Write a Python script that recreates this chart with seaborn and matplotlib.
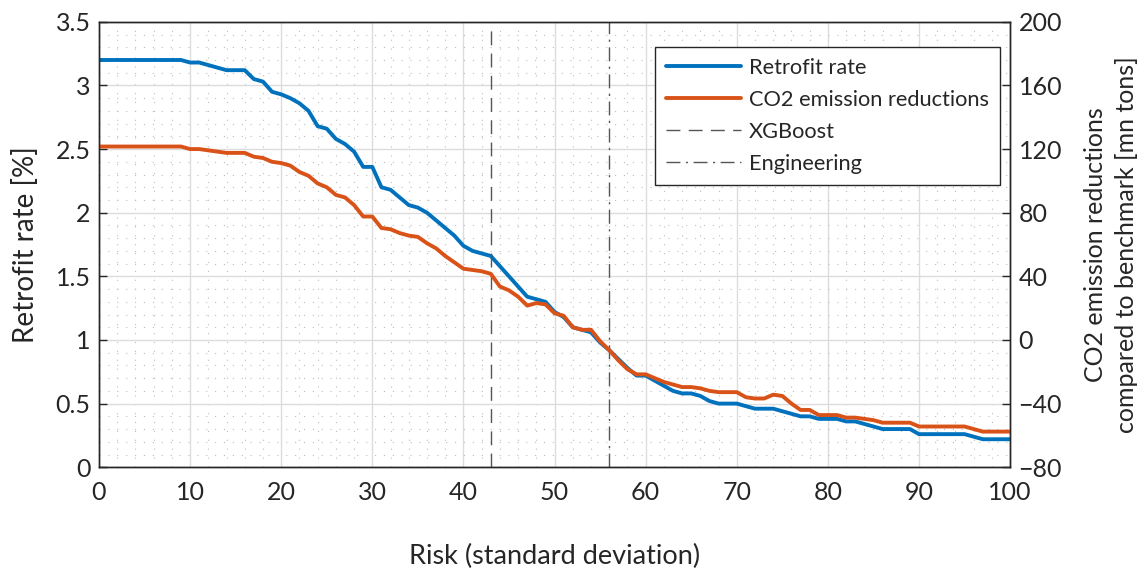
import numpy as np
import pandas as pd
import matplotlib
matplotlib.use("Agg")
import matplotlib.pyplot as plt
import seaborn as sns
from matplotlib.ticker import MultipleLocator
from matplotlib.lines import Line2D

# ---- data ----
risk = list(range(0, 101))
retrofit_rate = [3.2]*10 + [
    3.18, 3.18, 3.16, 3.14, 3.12, 3.12, 3.12, 3.05, 3.03, 2.95,   # 10-19
    2.93, 2.90, 2.86, 2.80, 2.68, 2.66, 2.58, 2.54, 2.48, 2.36,   # 20-29
    2.36, 2.20, 2.18, 2.12, 2.06, 2.04, 2.00, 1.94, 1.88, 1.82,   # 30-39
    1.74, 1.70, 1.68, 1.66, 1.58, 1.50, 1.42, 1.34, 1.32, 1.30,   # 40-49
    1.22, 1.18, 1.10, 1.08, 1.06, 0.98, 0.92, 0.85, 0.78, 0.72,   # 50-59
    0.72, 0.68, 0.64, 0.60, 0.58, 0.58, 0.56, 0.52, 0.50, 0.50,   # 60-69
    0.50, 0.48, 0.46, 0.46, 0.46, 0.44, 0.42, 0.40, 0.40, 0.38,   # 70-79
    0.38, 0.38, 0.36, 0.36, 0.34, 0.32, 0.30, 0.30, 0.30, 0.30,   # 80-89
    0.26, 0.26, 0.26, 0.26, 0.26, 0.26, 0.24, 0.22, 0.22, 0.22,   # 90-99
    0.22]
co2_reduction = [121.6]*10 + [
    120.0, 120.0, 119.2, 118.4, 117.6, 117.6, 117.6, 115.2, 114.4, 112.0,
    111.2, 109.6, 105.6, 103.2, 98.4, 96.0, 91.2, 89.6, 84.8, 77.6,
    77.6, 70.4, 69.6, 67.2, 65.6, 64.8, 60.8, 57.6, 52.8, 48.8,
    44.8, 44.0, 43.2, 41.6, 33.6, 31.2, 27.2, 21.6, 23.2, 22.4,
    16.8, 15.2, 8.0, 6.4, 6.4, -0.8, -6.4, -12.8, -18.4, -21.6,
    -21.6, -24.0, -26.4, -28.0, -29.6, -29.6, -30.4, -32.0, -32.8, -32.8,
    -32.8, -36.0, -36.8, -36.8, -34.4, -35.2, -40.0, -44.0, -44.0, -47.2,
    -47.2, -47.2, -48.8, -48.8, -49.6, -50.4, -52.0, -52.0, -52.0, -52.0,
    -54.4, -54.4, -54.4, -54.4, -54.4, -54.4, -56.0, -57.6, -57.6, -57.6,
    -57.6]
xgboost_risk = 43
engineering_risk = 56

series_labels = ["Retrofit rate", "CO2 emission reductions", "XGBoost", "Engineering"]
left_ticks = [0, 0.5, 1, 1.5, 2, 2.5, 3, 3.5]
left_tick_labels = ["0", "0.5", "1", "1.5", "2", "2.5", "3", "3.5"]

df = pd.DataFrame({"risk": risk, "rate": retrofit_rate, "co2": co2_reduction})

# ---- style ----
sns.set_style("white")
plt.rcParams["font.family"] = ["Lato", "DejaVu Sans"]
plt.rcParams["xtick.direction"] = "in"
plt.rcParams["ytick.direction"] = "in"

blue = "#0072BD"
orange = "#D95319"
vcol = "#555555"
txt = "#262626"
dash_style = (0, (10, 6))
dashdot_style = (0, (10, 4, 1.5, 4))

fig = plt.figure(figsize=(11.44, 5.74), dpi=100)
ax = fig.add_axes([0.0865, 0.186, 0.7965, 0.776])
ax2 = ax.twinx()

sns.lineplot(data=df, x="risk", y="rate", ax=ax, color=blue, lw=2.8, legend=False)
sns.lineplot(data=df, x="risk", y="co2", ax=ax2, color=orange, lw=2.8, legend=False)

ax.axvline(xgboost_risk, color=vcol, lw=1.0, ls=dash_style)
ax.axvline(engineering_risk, color=vcol, lw=1.0, ls=dashdot_style)

ax.set_xlim(0, 100)
ax.set_ylim(0, 3.5)
ax2.set_ylim(-80, 200)

ax.xaxis.set_major_locator(MultipleLocator(10))
ax.xaxis.set_minor_locator(MultipleLocator(2))
ax.set_yticks(left_ticks)
ax.set_yticklabels(left_tick_labels)
ax.yaxis.set_minor_locator(MultipleLocator(0.1))
ax2.yaxis.set_major_locator(MultipleLocator(40))

ax.grid(which="major", color="#dcdcdc", lw=1.0)
ax.grid(which="minor", color="#bdbdbd", lw=0.8, ls=(0, (1, 7)))
ax.set_axisbelow(True)

for a in (ax, ax2):
    for s in a.spines.values():
        s.set_color(txt)
        s.set_linewidth(1.0)
ax.tick_params(which="major", length=6, width=1, labelsize=18, colors=txt)
ax.tick_params(which="minor", length=0)
ax.tick_params(axis="x", pad=10)
ax.tick_params(axis="y", pad=6)
ax2.tick_params(which="major", length=6, width=1, labelsize=18, colors=txt, pad=6)
ax2.tick_params(which="minor", length=0)
ax2.grid(False)

ax.set_xlabel("Risk (standard deviation)", fontsize=19.5, color=txt, labelpad=29)
ax.set_ylabel("Retrofit rate [%]", fontsize=20, color=txt, labelpad=12)
ax2.set_ylabel("CO2 emission reductions\ncompared to benchmark [mn tons]",
               fontsize=18, color=txt, labelpad=16, linespacing=1.4)

handles = [
    Line2D([], [], color=blue, lw=2.8),
    Line2D([], [], color=orange, lw=2.8),
    Line2D([], [], color=vcol, lw=1.0, ls=dash_style),
    Line2D([], [], color=vcol, lw=1.0, ls=dashdot_style),
]
leg = ax2.legend(handles, series_labels, loc="upper right",
                 bbox_to_anchor=(0.989, 0.944), borderaxespad=0, fontsize=15.7,
                 frameon=True, fancybox=False, framealpha=1,
                 edgecolor=txt, handlelength=3.4, handletextpad=0.4,
                 borderpad=0.5, labelspacing=0.55)
leg.get_frame().set_linewidth(1.0)

fig.savefig("out.png", dpi=100)
